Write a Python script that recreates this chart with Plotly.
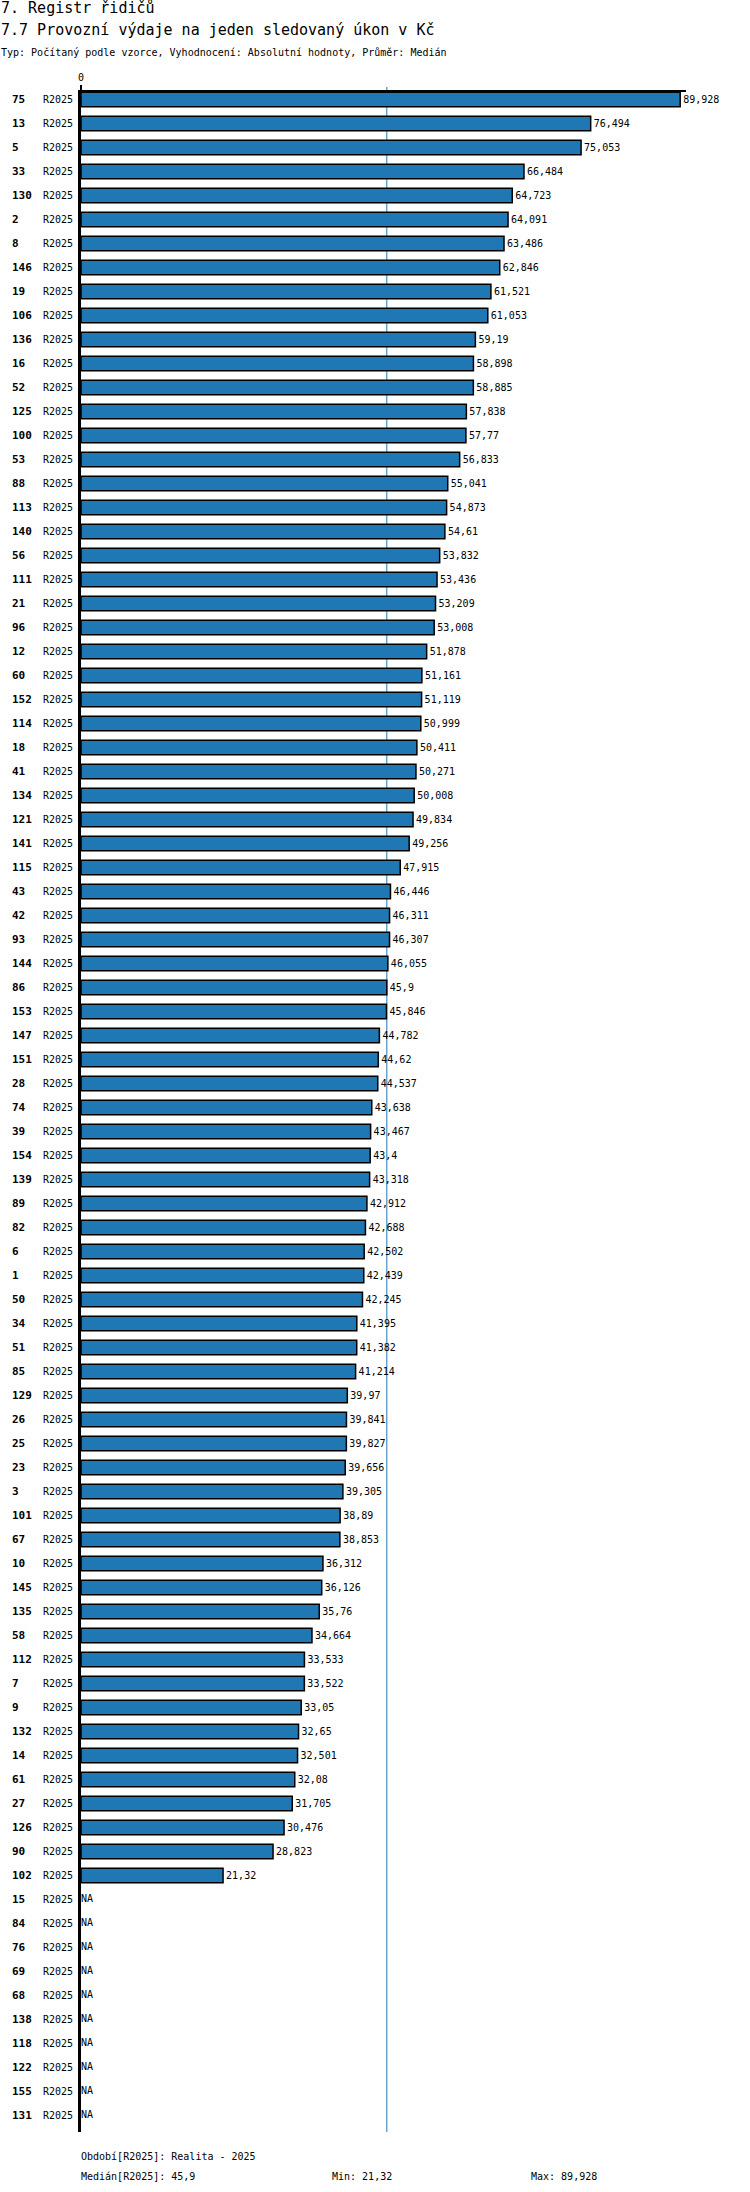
import numpy as np
import plotly.graph_objects as go

# data (values in Kč, shown with decimal comma)
ids = ["75", "13", "5", "33", "130", "2", "8", "146", "19", "106",
       "136", "16", "52", "125", "100", "53", "88", "113", "140", "56",
       "111", "21", "96", "12", "60", "152", "114", "18", "41", "134",
       "121", "141", "115", "43", "42", "93", "144", "86", "153", "147",
       "151", "28", "74", "39", "154", "139", "89", "82", "6", "1",
       "50", "34", "51", "85", "129", "26", "25", "23", "3", "101",
       "67", "10", "145", "135", "58", "112", "7", "9", "132", "14",
       "61", "27", "126", "90", "102", "15", "84", "76", "69", "68",
       "138", "118", "122", "155", "131"]
values = [89.928, 76.494, 75.053, 66.484, 64.723, 64.091, 63.486, 62.846, 61.521, 61.053,
          59.19, 58.898, 58.885, 57.838, 57.77, 56.833, 55.041, 54.873, 54.61, 53.832,
          53.436, 53.209, 53.008, 51.878, 51.161, 51.119, 50.999, 50.411, 50.271, 50.008,
          49.834, 49.256, 47.915, 46.446, 46.311, 46.307, 46.055, 45.9, 45.846, 44.782,
          44.62, 44.537, 43.638, 43.467, 43.4, 43.318, 42.912, 42.688, 42.502, 42.439,
          42.245, 41.395, 41.382, 41.214, 39.97, 39.841, 39.827, 39.656, 39.305, 38.89,
          38.853, 36.312, 36.126, 35.76, 34.664, 33.533, 33.522, 33.05, 32.65, 32.501,
          32.08, 31.705, 30.476, 28.823, 21.32, None, None, None, None, None,
          None, None, None, None, None]
period = "R2025"

MONO = "DejaVu Sans Mono"
BLUE = "#1f77b4"


def fmt(v):
    return f"{v:g}".replace(".", ",")


vals = np.array([np.nan if v is None else v for v in values])
median = np.nanmedian(vals)
vmin = np.nanmin(vals)
vmax = np.nanmax(vals)

has = [v is not None for v in values]
bar_ids = [i for i, h in zip(ids, has) if h]
bar_vals = [v for v in values if v is not None]
na_ids = [i for i, h in zip(ids, has) if not h]

fig = go.Figure()

fig.add_trace(go.Bar(
    y=bar_ids, x=bar_vals, orientation="h",
    marker=dict(color=BLUE, line=dict(color="black", width=1.5)),
    width=0.6,
    text=[fmt(v) for v in bar_vals], textposition="outside",
    textfont=dict(family=MONO, size=10, color="black"),
    cliponaxis=False, constraintext="none",
    hoverinfo="skip",
))

fig.add_trace(go.Scatter(
    y=na_ids, x=[0] * len(na_ids), mode="text",
    text=["NA"] * len(na_ids), textposition="middle right",
    textfont=dict(family=MONO, size=10, color="black"),
    cliponaxis=False, hoverinfo="skip",
))

n = len(ids)
plot_h = n * 24

annotations = []
for k, i in enumerate(ids):
    # y given as the category's position so numeric-looking ids are not misread
    annotations.append(dict(
        x=0, xref="paper", y=k, yref="y", text=f"<b>{i}</b>", showarrow=False,
        xanchor="left", xshift=-71, font=dict(family=MONO, size=11, color="black")))
    annotations.append(dict(
        x=0, xref="paper", y=k, yref="y", text=period, showarrow=False,
        xanchor="right", xshift=-6, font=dict(family=MONO, size=10, color="black")))

titles = [
    ("7. Registr řidičů", 15, 84),
    ("7.7 Provozní výdaje na jeden sledovaný úkon v Kč", 15, 62),
    ("Typ: Počítaný podle vzorce, Vyhodnocení: Absolutní hodnoty, Průměr: Medián", 10, 40),
]
for txt, size, shift in titles:
    annotations.append(dict(
        x=0, xref="paper", y=1, yref="paper", text=txt, showarrow=False,
        xanchor="left", yanchor="middle", xshift=-82, yshift=shift,
        font=dict(family=MONO, size=size, color="black")))

footer = [
    ("Období[R2025]: Realita - 2025", -2, -24),
    (f"Medián[R2025]: {fmt(median)}", -2, -44),
    (f"Min: {fmt(vmin)}", 249, -44),
    (f"Max: {fmt(vmax)}", 448, -44),
]
for txt, xs, ys in footer:
    annotations.append(dict(
        x=0, xref="paper", y=0, yref="paper", text=txt, showarrow=False,
        xanchor="left", yanchor="middle", xshift=xs, yshift=ys,
        font=dict(family=MONO, size=10, color="black")))

fig.update_layout(
    width=750, height=2192,
    margin=dict(l=81, r=64, t=92, b=2192 - 92 - plot_h, pad=0),
    plot_bgcolor="white", paper_bgcolor="white",
    showlegend=False,
    annotations=annotations,
    shapes=[dict(type="line", xref="x", yref="paper", x0=median, x1=median,
                 y0=0, y1=1 + 5 / plot_h, line=dict(color=BLUE, width=1), layer="below")],
    xaxis=dict(side="top", range=[0, 90.8], showgrid=False, zeroline=False,
               showline=True, linecolor="black", linewidth=1.5,
               tickvals=[0], ticktext=["0"], ticks="outside", ticklen=5, tickwidth=2,
               tickcolor="black", tickfont=dict(family=MONO, size=10, color="black"),
               fixedrange=True),
    yaxis=dict(type="category", categoryorder="array", categoryarray=ids,
               range=[n - 1 + 0.6875, -0.3125], showgrid=False, zeroline=False,
               showline=True, linecolor="black", linewidth=2.5,
               showticklabels=False, ticks="", fixedrange=True),
)

# the page's default body margin would push the figure 8px right and down
fig.write_html("out.html", config={"displayModeBar": False},
               post_script="document.body.style.margin = '0';")
